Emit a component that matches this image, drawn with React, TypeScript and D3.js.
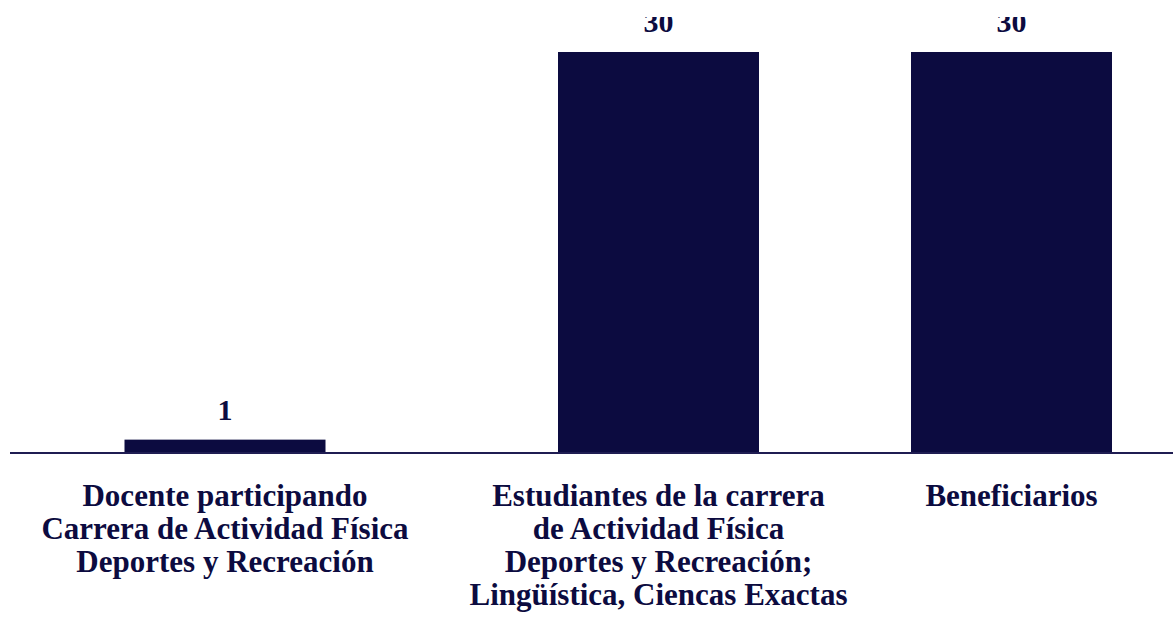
import React, { useEffect, useRef } from 'react';
import * as d3 from 'd3';

const categories = ['docente', 'estudiantes', 'beneficiarios'];
const values = [1, 30, 30];
const labelLines = [
  ['Docente participando', 'Carrera de Actividad Física', 'Deportes y Recreación'],
  ['Estudiantes de la carrera', 'de Actividad Física', 'Deportes y Recreación;', 'Lingüística, Ciencas Exactas'],
  ['Beneficiarios'],
];

const WIDTH = 1173;
const HEIGHT = 624;
const NAVY = '#0c0b40';
const FONT = '"Liberation Serif", "Times New Roman", serif';

const App: React.FC = () => {
  const svgRef = useRef<SVGSVGElement | null>(null);

  useEffect(() => {
    if (!svgRef.current) return;
    const svg = d3.select(svgRef.current);
    svg.selectAll('*').remove();

    const baseY = 453;
    const barW = 201;

    // the bars are not evenly spaced in the original, so map by hand
    const x = d3.scaleOrdinal<string, number>()
      .domain(categories)
      .range([225, 658.5, 1011.5]);

    const y = d3.scaleLinear()
      .domain([0, 30])
      .range([baseY, 52]);

    // top of the picture cuts the "30" labels
    svg.append('defs')
      .append('clipPath')
      .attr('id', 'clipTop')
      .append('rect')
      .attr('x', 0)
      .attr('y', 17)
      .attr('width', WIDTH)
      .attr('height', HEIGHT - 17);

    const g = svg.append('g').attr('clip-path', 'url(#clipTop)');

    g.selectAll('rect.bar')
      .data(categories)
      .join('rect')
      .attr('class', 'bar')
      .attr('x', d => x(d) - barW / 2)
      .attr('y', (d, i) => y(values[i]))
      .attr('width', barW)
      .attr('height', (d, i) => baseY - y(values[i]))
      .attr('fill', NAVY);

    g.append('line')
      .attr('x1', 10)
      .attr('x2', WIDTH)
      .attr('y1', baseY)
      .attr('y2', baseY)
      .attr('stroke', '#1f1d52')
      .attr('stroke-width', 2);

    g.selectAll('text.value')
      .data(categories)
      .join('text')
      .attr('class', 'value')
      .attr('x', d => x(d))
      .attr('y', (d, i) => y(values[i]) - 20)
      .attr('text-anchor', 'middle')
      .style('font', `bold 30px ${FONT}`)
      .attr('fill', NAVY)
      .text((d, i) => values[i]);

    const labels = g.selectAll('text.cat')
      .data(categories)
      .join('text')
      .attr('class', 'cat')
      .attr('text-anchor', 'middle')
      .style('font', `bold 31px ${FONT}`)
      .attr('fill', NAVY);

    labels.each(function (d, i) {
      d3.select(this)
        .selectAll('tspan')
        .data(labelLines[i])
        .join('tspan')
        .attr('x', x(d))
        .attr('y', (l, j) => 506 + j * 33)
        .text(l => l);
    });
  }, []);

  return (
    <div style={{ position: 'absolute', left: 0, top: 0 }}>
      <svg ref={svgRef} width={WIDTH} height={HEIGHT} style={{ display: 'block' }}></svg>
    </div>
  );
};

export default App;
